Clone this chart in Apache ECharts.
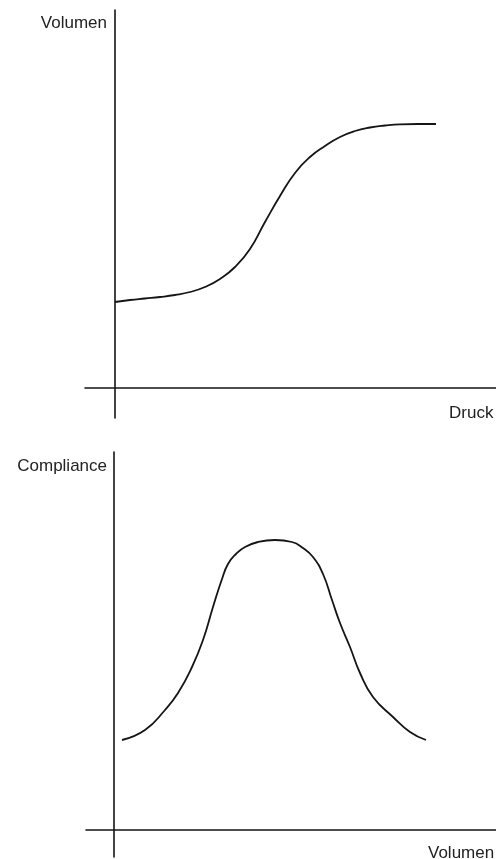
<!DOCTYPE html>
<html>
<head>
<meta charset="utf-8">
<script src="https://cdn.jsdelivr.net/npm/echarts@6/dist/echarts.min.js"></script>
<style>
  html, body { margin: 0; padding: 0; background: #fff; }
  #chart { width: 496px; height: 859px; }
</style>
</head>
<body>
<div id="chart"></div>
<script>
// Druck-Volumen-Kurve (oben)
var druckX = [0, 1.5, 3.0, 4.5, 6.0, 7.5, 9.0, 10.5, 12.0, 13.5, 15.0, 16.5, 18.0, 19.5, 21.0, 22.5, 24.0, 25.5, 27.0, 28.5, 30.3, 32.1];
var volumenY = [8.6, 8.8, 8.95, 9.1, 9.3, 9.6, 10.1, 10.9, 12.1, 13.9, 16.6, 19.2, 21.5, 23.1, 24.2, 25.1, 25.7, 26.05, 26.25, 26.37, 26.4, 26.4];

// Compliance-Kurve (unten)
var volumenX = [0.8, 3.1, 5.1, 6.4, 7.8, 8.9, 9.9, 10.8, 11.4, 12.2, 13.1, 14.4, 16.1, 17.8, 18.9, 19.9, 20.9, 21.8, 22.6, 23.6, 24.6, 25.9, 27.9, 29.6, 31.2];
var complianceY = [9.0, 10.0, 12.0, 13.7, 16.3, 19.0, 22.3, 25.1, 26.6, 27.6, 28.3, 28.8, 29.0, 28.8, 28.2, 27.3, 25.6, 23.0, 20.7, 18.3, 15.7, 13.3, 11.3, 9.8, 9.0];

var axisNames = ['Volumen', 'Druck', 'Compliance', 'Volumen'];

function pairs(xs, ys) {
  return xs.map(function (x, i) { return [x, ys[i]]; });
}

var lineColor = '#151515';
function axis(extra) {
  var a = {
    type: 'value',
    axisLine: { show: true, onZero: true, lineStyle: { color: lineColor, width: 1.6 } },
    axisTick: { show: false },
    axisLabel: { show: false },
    splitLine: { show: false }
  };
  for (var k in extra) a[k] = extra[k];
  return a;
}

var labelStyle = { color: '#222', fontSize: 17, fontFamily: 'Liberation Sans, Arial, sans-serif', fontWeight: 'normal' };

var chart = echarts.init(document.getElementById('chart'));
chart.setOption({
  animation: false,
  backgroundColor: '#fff',
  title: [
    { text: axisNames[0], right: 389, top: 15, padding: 0, textStyle: labelStyle },
    { text: axisNames[1], left: 449, top: 405, padding: 0, textStyle: labelStyle },
    { text: axisNames[2], right: 389, top: 458, padding: 0, textStyle: labelStyle },
    { text: axisNames[3], left: 428, top: 845, padding: 0, textStyle: labelStyle }
  ],
  grid: [
    { left: 85, top: 10, width: 411, height: 408 },
    { left: 86, top: 452, width: 410, height: 405 }
  ],
  xAxis: [
    axis({ gridIndex: 0, min: -3.0, max: 38.1 }),
    axis({ gridIndex: 1, min: -2.8, max: 38.2 })
  ],
  yAxis: [
    axis({ gridIndex: 0, min: -3.0, max: 37.8 }),
    axis({ gridIndex: 1, min: -2.7, max: 37.8 })
  ],
  series: [
    {
      type: 'line',
      xAxisIndex: 0, yAxisIndex: 0,
      data: pairs(druckX, volumenY),
      smooth: 0.5,
      showSymbol: false,
      lineStyle: { color: lineColor, width: 1.8 }
    },
    {
      type: 'line',
      xAxisIndex: 1, yAxisIndex: 1,
      data: pairs(volumenX, complianceY),
      smooth: 0.5,
      showSymbol: false,
      lineStyle: { color: lineColor, width: 1.8 }
    }
  ]
});
</script>
</body>
</html>
